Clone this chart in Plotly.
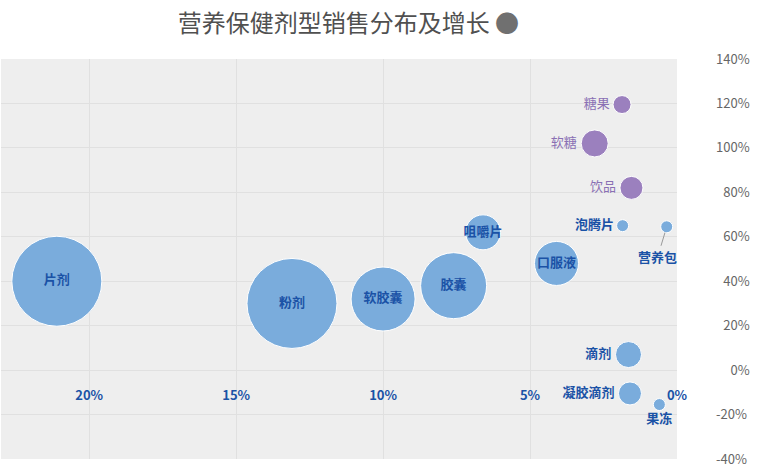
import plotly.graph_objects as go

# ---- data ----
blue_names = ["片剂", "粉剂", "软胶囊", "胶囊", "咀嚼片", "口服液", "泡腾片", "营养包", "滴剂", "凝胶滴剂", "果冻"]
blue_share = [21.1, 13.1, 10.0, 7.6, 6.6, 4.1, 1.85, 0.35, 1.65, 1.6, 0.6]      # x: 销售占比 %
blue_growth = [40, 30, 32, 38, 62, 48, 65, 64.5, 7, -10.5, -15.5]                # y: 增长率 %
blue_size = [45, 45, 32, 33, 17.5, 22, 6, 6, 13, 11.5, 6]

purple_names = ["糖果", "软糖", "饮品"]
purple_share = [1.87, 2.8, 1.55]
purple_growth = [119.5, 102, 82]
purple_size = [9, 13.5, 11.5]

x_ticks = [0, 5, 10, 15, 20]
y_ticks = [-40, -20, 0, 20, 40, 60, 80, 100, 120, 140]

title_text = "营养保健剂型销售分布及增长"

FONT = "Noto Sans CJK SC, Noto Sans, sans-serif"
BLUE = "#7aacdc"
BLUE_TXT = "#1a52a6"
PURPLE = "#9b80be"
PURPLE_TXT = "#8a70b4"

blue_pos = ["middle center", "middle center", "middle center", "middle center", "middle center",
            "middle center", "middle left", "none", "middle left", "middle left", "bottom center"]
blue_text = [n if p != "none" else "" for n, p in zip(blue_names, blue_pos)]
blue_pos = [p if p != "none" else "middle center" for p in blue_pos]

fig = go.Figure()
fig.add_trace(go.Scatter(
    x=blue_share, y=blue_growth, mode="markers+text",
    text=blue_text, textposition=blue_pos,
    textfont=dict(family=FONT, size=13, color=BLUE_TXT, weight="bold"),
    marker=dict(size=blue_size, sizemode="diameter", sizeref=0.5, color=BLUE,
                opacity=1, line=dict(color="white", width=1)),
    hoverinfo="text", hovertext=blue_names, showlegend=False,
))
fig.add_trace(go.Scatter(
    x=purple_share, y=purple_growth, mode="markers+text",
    text=purple_names, textposition="middle left",
    textfont=dict(family=FONT, size=13, color=PURPLE_TXT),
    marker=dict(size=purple_size, sizemode="diameter", sizeref=0.5, color=PURPLE,
                opacity=1, line=dict(color="white", width=1)),
    hoverinfo="text", hovertext=purple_names, showlegend=False,
))

# label with leader line for 营养包
i = blue_names.index("营养包")
fig.add_annotation(x=blue_share[i], y=blue_growth[i], text=blue_names[i],
                   showarrow=True, arrowhead=0, arrowwidth=1, arrowcolor="#999999",
                   ax=-9, ay=30, standoff=6,
                   font=dict(family=FONT, size=13, color=BLUE_TXT, weight="bold"))

def ylab(v):
    s = f"{v}%"
    return "\u2007" * (4 - len(s)) + s

fig.update_layout(
    width=764, height=476,
    margin=dict(l=1, r=87, t=59, b=17),
    paper_bgcolor="white", plot_bgcolor="#eeeeee",
    font=dict(family=FONT),
    title=dict(text=title_text + " <span style='color:#707070'>●</span>", x=0.456,
               xanchor="center", y=0.95, yanchor="middle",
               xref="container", yref="container",
               font=dict(family=FONT, size=24, color="#505050")),
    xaxis=dict(range=[23.0, 0], tickvals=x_ticks, ticktext=[f"{v}%" for v in x_ticks],
               showgrid=True, gridcolor="#e0e0e0", gridwidth=1, zeroline=False,
               showline=False, ticks="", anchor="free", position=(0 - (-40)) / 180,
               ticklabelstandoff=16,
               tickfont=dict(family=FONT, size=13, color=BLUE_TXT, weight="bold")),
    yaxis=dict(range=[-40, 140], tickvals=y_ticks, ticktext=[ylab(v) for v in y_ticks],
               side="right", showgrid=True, gridcolor="#e0e0e0", gridwidth=1,
               zeroline=True, zerolinecolor="#e0e0e0", zerolinewidth=1,
               showline=False, ticks="", ticklabelstandoff=38,
               tickfont=dict(family=FONT, size=13, color="#666666")),
)

fig.write_html("out.html", config={"displayModeBar": False},
               post_script="document.body.style.margin='0';")
